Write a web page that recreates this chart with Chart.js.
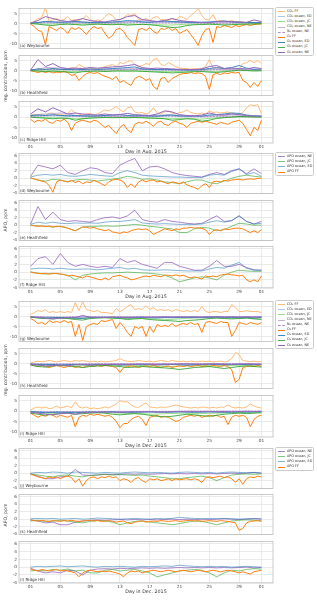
<!DOCTYPE html>
<html>
<head>
<meta charset="utf-8">
<script src="https://cdn.jsdelivr.net/npm/chart.js@4.4.1/dist/chart.umd.min.js"></script>
<style>
  body { margin: 0; width: 317px; height: 600px; position: relative; overflow: hidden; background: #fff; font-family: "DejaVu Sans", sans-serif; color: #333; }
  canvas { position: absolute; left: 0; }
  .ylab { position: absolute; font-size: 4.6px; white-space: nowrap; transform: translate(-50%, -50%) rotate(-90deg); }
  .legend { position: absolute; left: 275px; width: 39px; border: 0.6px solid #ccc; border-radius: 1.5px; background: #fff; font-size: 3.4px; padding: 0.8px 0; box-sizing: border-box; }
  .legend div { height: 5.1px; line-height: 5.1px; white-space: nowrap; position: relative; padding-left: 11px; }
  .legend span { position: absolute; left: 2px; top: 2.5px; width: 7px; height: 0; border-top-width: 1px; }
</style>
</head>
<body>
<script>
// x axis: day of month, ticks every 4 days plus the 1st of next month
var dayTicks = [1, 5, 9, 13, 17, 21, 25, 29, 32];
var dayTickLabels = ["01", "05", "09", "13", "17", "21", "25", "29", "01"];
var contribTicks = [-10, -5, 0, 5];
var apoTicks = [-4, -2, 0, 2, 4, 6];
var contribNames = ["CO₂ FF", "CO₂ ocean, ED", "CO₂ ocean, JC", "CO₂ ocean, NE", "N₂ ocean, NE", "O₂ FF", "O₂ ocean, ED", "O₂ ocean, JC", "O₂ ocean, NE"];
var apoNames = ["APO ocean, NE", "APO ocean, JC", "APO ocean, ED", "APO FF"];

// ---- Aug 2015, regional contributions (FF: half-daily, ocean: daily, small ones: ~2-daily)
var a_CO2FF = [0.2,1,2.5,2.8,8,1,1.8,2.5,1.5,2,3.5,1.5,2,1.5,2.5,4,2,1,1.8,1.5,3.5,5,4,2,1.8,3,4.5,4,5,2,1.8,2.5,1.5,3,3.5,1.8,2,1.5,2.5,1.8,3.5,3,2,4,5.5,7.5,4,2,1.8,4.5,1,1.5,0.8,1,1.5,0.8,1,0.7,0.4,0.7,0.4,0.2,0.1];
var a_O2FF = [-0.3,-1.5,-3.5,-4,-10.5,-1.5,-2.5,-3.5,-2,-3,-5,-2,-3,-2,-3.5,-5.5,-3,-1.5,-2.5,-2,-5,-7.5,-6,-3,-2.5,-4,-7,-9,-11,-3,-2.5,-3.5,-2,-4,-5,-2.5,-3,-2,-3.5,-2.5,-5,-4,-3,-5.5,-8,-11,-6,-3,-2.5,-9.5,-1.5,-2,-1,-1.5,-2,-1,-1.5,-1,-0.5,-1,-0.5,-0.3,-0.2];
var a_O2ED = [0.2,0.5,1,0.8,0.6,0.8,1,0.7,0.5,0.6,0.5,0.8,1,1.5,1.2,0.8,0.6,1,1.2,1,0.8,0.6,0.5,0.6,0.8,1,1.2,0.8,0.6,0.5,0.5,0.4];
var a_O2JC = [0,-0.3,-0.8,-1,-0.5,-0.3,-0.5,-0.8,-0.5,-0.3,-0.5,-0.6,-0.4,-0.8,-0.6,-0.4,-0.6,-1,-1.5,-2,-1.8,-1,-0.6,-0.5,-0.3,-0.5,-0.8,-0.6,-0.4,-0.3,-0.2,-0.1];
var a_O2NE = [0.2,1.5,3.5,2.5,1.5,1,1.5,2.5,1.5,1,0.8,1.5,2,3.5,4,2,1.5,1,1.5,2.5,1.5,1,0.8,0.6,0.5,1,1.2,1,0.8,0.6,1.8,1];
var a_CO2ED = [0.1,0.4,0.3,0.5,0.3,0.4,0.6,0.8,0.5,0.6,0.4,0.3,0.5,0.6,0.4,0.3];
var a_CO2JC = [0,-0.3,-0.2,-0.3,-0.2,-0.3,-0.2,-0.4,-0.6,-0.8,-0.4,-0.2,-0.3,-0.3,-0.2,-0.1];
var a_CO2NE = [0.1,1,0.8,1,0.6,0.5,0.8,1.5,1,0.8,1.2,0.5,0.4,0.5,0.5,0.6];
var a_N2NE = [0.1,0.4,0.3,0.3,0.2,0.2,0.3,0.5,0.3,0.3,0.4,0.2,0.1,0.2,0.2,0.2];

var b_CO2FF = [0.1,0.3,0.7,0.4,0.7,0.4,0.8,0.6,0.7,0.4,0.7,1.5,1.2,3,2,1,0.7,1,0.7,1.2,2,2.5,3,2,4,3.5,4.5,5,3,2,2.5,3.5,3,5.5,6,3,2.5,4,3,2,1.2,1,1,0.7,1,0.8,1,2,5.5,1.2,1,1.2,0.8,1,0.7,0.8,0.7,3.5,4,5,4,5,3.5];
var b_O2FF = [-0.2,-0.5,-1,-0.5,-1,-0.5,-1.2,-0.8,-1,-0.5,-1,-2.5,-2,-5,-3,-1.5,-1,-1.5,-1,-2,-3,-3.5,-4.5,-3,-6,-5,-6.5,-7.5,-4,-3,-3.5,-5,-4,-8,-9.5,-4,-3.5,-6,-4,-3,-2,-1.5,-1.5,-1,-1.5,-1.2,-1.5,-3,-9.5,-2,-1.5,-2,-1.2,-1.5,-1,-1.2,-1,-5,-6,-8.5,-6,-8,-5];
var b_O2ED = [0.2,0.8,0.6,1,0.6,0.5,0.7,0.5,0.8,0.6,0.8,1,1.2,1.5,1.8,0.8,0.6,0.5,0.6,0.5,0.4,0.3,0.3,0.5,1,1.5,1,1.5,2.5,1.2,0.6,0.8];
var b_O2JC = [0,-0.3,-0.5,-0.3,-0.5,-0.8,-1.2,-0.6,-0.4,-0.3,-0.5,-0.3,-0.2,-0.3,-0.2,-0.4,-0.6,-0.8,-1,-1.2,-1,-0.8,-0.6,-0.5,-0.8,-1,-0.6,-0.3,0.2,0,-0.2,-0.1];
var b_O2NE = [0.2,5.5,2,3.5,1.5,1,1.2,1,1.5,1.2,1.5,1.8,2,2.5,3,1.5,1,1.2,1,0.8,0.6,0.5,0.5,0.8,2,2.5,1,1.2,1,0.8,1.5,1];
var b_CO2ED = [0.1,0.3,0.4,0.3,0.3,0.4,0.5,0.6,0.3,0.2,0.2,0.3,0.5,0.8,0.4,0.3];
var b_CO2JC = [0,-0.2,-0.3,-0.5,-0.2,-0.2,-0.2,-0.3,-0.4,-0.6,-0.4,-0.3,-0.5,0,-0.1,-0.1];
var b_CO2NE = [0.1,1.5,1.2,0.5,0.5,0.6,0.8,1,0.6,0.4,0.3,0.3,0.8,0.5,0.4,0.5];
var b_N2NE = [0.1,0.6,0.5,0.2,0.2,0.3,0.4,0.5,0.3,0.2,0.1,0.1,0.4,0.2,0.2,0.2];

var c_CO2FF = [0.8,1.5,1,1.5,0.8,1.8,2,1,1.5,0.8,1.8,3.5,2,1.5,1,1.5,1.8,1,1.5,2.5,3.5,3,4,5,3.5,2.5,4.5,5,2.5,2,2.2,1.5,2.2,4.5,2,1.5,2.5,3,2,1.5,2.2,2.5,3.5,2.2,1.8,1.5,2,1.5,3,2.2,2.5,2,2.2,2.5,1.8,1.5,1.2,2.2,4.5,6,5.5,6,1.5];
var c_O2FF = [-1,-2.5,-1.5,-2,-1,-2.5,-3,-1.5,-2,-1,-2.5,-6.5,-3,-2,-1.5,-2,-2.5,-1.5,-2,-3.5,-5,-4,-6,-8,-5,-3.5,-6,-7.5,-3.5,-2.5,-3,-2,-3,-4.5,-2.5,-2,-3.5,-4,-2.5,-2,-3,-3.5,-5,-3,-2.5,-2,-2.5,-2,-2.5,-3,-3.5,-2.5,-3,-3.5,-2.5,-2,-1.5,-3,-6,-9,-5,-6.5,-1.5];
var c_O2ED = [0.8,1,0.8,1.2,0.8,0.6,0.8,0.6,0.5,0.6,0.8,1,1.2,0.8,0.6,0.8,0.6,0.5,0.8,1,0.6,0.5,0.6,0.5,1,1.2,1.5,2,1.8,1,0.6,0.5];
var c_O2JC = [0,-0.3,-0.5,-0.8,-0.5,-0.6,-1.5,-0.8,-0.5,-0.3,-0.2,-0.3,-0.2,-0.3,-0.2,-0.3,-0.5,-0.6,-0.8,-1.5,-1.2,-0.8,-1,-2,-1.5,-0.6,-0.3,0,0.3,0.2,0.1,0];
var c_O2NE = [1.5,4,2.5,4.5,3,1.5,2,1.5,1.2,1,1.5,1,1.2,1.8,1.2,1,0.8,1.5,3,2.5,1.2,0.8,0.6,1,2,1.2,1,1.5,1.2,0.8,0.6,0.5];
var c_CO2ED = [0.5,0.6,0.5,0.4,0.4,0.5,0.5,0.4,0.3,0.5,0.4,0.3,0.6,1.2,0.6,0.3];
var c_CO2JC = [0,-0.3,-0.4,-0.8,-0.3,-0.2,-0.2,-0.2,-0.4,-0.8,-0.6,-1,-0.4,0,0,0];
var c_CO2NE = [0.8,1.5,2,0.8,0.6,0.5,0.6,0.5,0.8,1.2,0.4,0.3,0.6,0.5,0.4,0.3];
var c_N2NE = [0.3,0.6,0.8,0.3,0.2,0.2,0.2,0.2,0.3,0.5,0.2,0.1,0.2,0.2,0.2,0.1];

// ---- Aug 2015, APO components
var d_NE = [0.5,3.5,3,2.5,3.5,1.5,1,2,2.8,2.5,1.5,1.2,3.5,4.5,5.3,2,3,3.2,2.5,1.5,1,0.7,0.5,0.3,1,1.5,1,2,2.5,1.2,2.5,1.2];
var d_JC = [0.1,-0.5,-0.8,-0.3,-0.5,-1,-0.5,-0.3,-0.5,-0.8,-0.5,-0.3,0,0.5,0.2,-0.3,-0.2,-0.5,-1,-1.2,-1.5,-1,-0.5,-0.5,-1.2,-1.5,-0.8,0,0.5,0.8,0.5,0.3];
var d_ED = [0.3,0.8,1,0.8,1,0.6,0.5,0.7,1,0.8,0.6,0.5,1.5,2,1.5,0.8,0.6,0.5,0.4,0.3,0.3,0.2,0.2,0.2,0.8,1,0.8,1.8,2.5,1,1.5,0.5];
var d_FF = [0,-0.2,-0.5,-0.8,-1,-2,-3.8,-1,-0.5,-0.8,-1,-0.6,-1.2,-0.8,-1.5,-1,-1.2,-0.6,-1,-1.5,-2,-1,-0.5,-0.3,-0.5,-1,-2.5,-1.5,-2.5,-1,-0.5,-1,-0.6,-0.5,-1,-0.8,-1.2,-1.5,-1,-1.2,-1.5,-1,-1.8,-2.2,-2.5,-3,-2,-1.5,-2.5,-1,-0.8,-1,-0.6,-0.8,-0.5,-0.4,-0.3,-0.5,-0.3,-0.2,-0.3,-0.1,0];

var e_NE = [0.3,5,1.5,3.5,1.5,1,1.2,1,0.8,1.5,2,2.2,1.8,2.5,4,1.5,1,0.8,1.5,1,0.8,0.5,0.3,0.5,1.5,2.5,1,1.2,2.5,1,0.3,1];
var e_JC = [0,-0.2,-0.3,-0.5,-0.3,-0.8,-1.5,-0.5,-0.3,-0.3,-0.2,-0.3,-0.2,0,0.2,0,-0.3,-0.5,-0.8,-1,-2,-2,-1,-0.6,-0.8,-1.5,-1.2,-0.3,0.5,0.3,0,0];
var e_ED = [0.2,0.8,0.5,0.8,0.5,0.4,0.6,0.5,0.6,0.5,0.8,1,1,1.2,1.5,0.6,0.4,0.3,0.4,0.3,0.2,0.2,0.2,0.3,0.8,1.2,0.8,1.2,2.5,1,0.3,0.5];
var e_FF = [0,-0.2,-0.3,-0.2,-0.4,-0.2,-0.5,-0.3,-0.4,-0.5,-0.8,-1.2,-1.5,-1,-0.5,-0.6,-0.8,-0.6,-1,-1.2,-1.5,-1.2,-1.8,-2,-2.2,-1.8,-2,-1.5,-1.2,-1,-1.2,-1,-1.5,-2.5,-2,-1.5,-1,-1.2,-1.5,-1,-1.2,-0.8,-0.8,-0.6,-0.8,-0.7,-0.9,-1.2,-2.5,-1.5,-1.2,-1.5,-1,-1.2,-1,-0.8,-0.8,-1,-1.5,-2,-1.5,-2,-1.2];

var f_NE = [1.5,3.5,4,2,4.8,2.5,1.5,2,1.5,1.2,1.5,1.2,3.5,2.5,3,2,1.5,1,2.5,2.5,1.5,1,0.5,0.5,1.5,3,1.5,1.5,2,1.2,0.6,0.5];
var f_JC = [0.1,-0.3,-0.5,-0.3,-0.5,-0.8,-2,-0.8,-0.5,-0.3,-0.2,-0.2,-0.1,0,-0.1,-0.2,-0.3,-0.5,-0.8,-1.5,-2.5,-2,-1.5,-1.2,-1.5,-2,-0.8,0,0.5,0.3,0.2,0.2];
var f_ED = [0.8,1,1,0.8,1,0.8,0.7,0.8,0.8,0.6,0.8,1,1.2,0.8,1,0.6,0.5,0.5,0.6,0.5,0.4,0.3,0.3,0.3,0.8,1.2,1,1.8,2.5,1,0.5,0.5];
var f_FF = [0,-0.2,-0.3,-0.4,-0.3,-0.5,-0.4,-0.3,-0.5,-0.6,-1,-0.8,-1,-1.2,-1.5,-1,-1.2,-1.5,-1.8,-2,-1.5,-2,-1.2,-1,-0.8,-1.2,-1.5,-2,-1.8,-1.5,-1.2,-1,-1.2,-0.8,-1,-1.2,-0.8,-0.8,-1,-0.7,-1,-0.8,-1.2,-1.5,-1.2,-1.5,-1.8,-1,-1.2,-1,-1.2,-0.8,-0.6,-0.5,-0.7,-0.8,-1,-0.8,-2,-2.5,-2,-2.5,-1];

// ---- Dec 2015, regional contributions
var g_CO2FF = [1,2,3,2.5,3.5,2,2.5,2,2.5,2,2.5,2,7,3,7.5,3.5,3,2.5,3,2,2,1.8,1.5,4,2.5,3.5,5,6,3.5,4,3.5,5.5,3.5,4.5,3,3.5,3,3.5,2.5,3.5,3,2.5,3,2.5,3,2.5,5,2.5,2,2.5,2.5,2,2.5,2.5,6,4.5,2.5,2.5,3,2.5,2.5,2.5,2];
var g_O2FF = [-1,-2,-3.5,-3,-4,-2,-3,-2.5,-3,-2,-3,-2.5,-10,-4,-12,-5,-4,-3.5,-4,-2,-2.5,-2,-1.5,-6,-3,-5,-8,-10,-5,-6,-5,-10,-5,-8,-4,-5,-4.5,-5,-3.5,-5,-4,-3.5,-4,-3,-4,-3.5,-8,-3,-2.5,-3,-3.5,-2.5,-3,-3,-10,-7,-3,-3.5,-4,-3,-3.5,-4,-3];
var g_O2ED = [-0.2,-0.5,-0.8,-0.6,-0.5,-0.7,-0.8,-1,-0.6,-0.5,-0.4,-0.5,-0.6,-0.8,-0.6,-0.5,-0.6,-0.7,-0.5,-0.6,-0.5,-0.4,-0.5,-0.6,-0.4,-0.3,-0.4,-0.5,-0.6,-0.4,-0.8,-0.5];
var g_O2JC = [-0.3,-0.8,-1,-1.2,-0.8,-1,-1.5,-1.8,-1,-0.8,-0.6,-0.8,-1,-1.5,-1.2,-1,-1.5,-1.8,-2,-2.2,-2.5,-2,-1.8,-1.5,-1,-0.8,-1,-1.2,-1,-0.8,-1.2,-1.5];
var g_O2NE = [-0.2,-0.5,-0.8,-1.2,-0.8,-0.6,-0.5,0.5,-0.3,-0.4,-0.5,-0.3,-0.4,-0.5,-0.4,-0.3,-0.4,-0.3,-0.2,-0.3,-0.2,-0.3,-0.2,-0.3,-0.2,-0.2,-0.3,-0.2,-0.3,-0.2,-0.3,-0.2];
var g_CO2ED = [-0.1,-0.3,-0.4,-0.5,-0.3,-0.3,-0.4,-0.3,-0.3,-0.2,-0.3,-0.2,-0.2,-0.3,-0.3,-0.2];
var g_CO2JC = [-0.2,-0.5,-0.8,-1,-0.5,-0.6,-0.8,-1,-1.2,-1.5,-1,-0.6,-0.6,-0.8,-0.6,-0.8];
var g_CO2NE = [-0.1,-0.4,-0.6,-0.2,-0.3,-0.3,-0.2,-0.2,-0.2,-0.2,-0.2,-0.2,-0.2,-0.2,-0.2,-0.2];
var g_N2NE = [0,-0.2,-0.3,-0.1,-0.1,-0.2,-0.1,-0.1,-0.1,-0.1,-0.1,-0.1,-0.1,-0.1,-0.1,-0.1];

var h_CO2FF = [0.3,0.8,1.2,0.8,1.2,1.5,1.2,0.8,1.2,1.5,1.2,1,1.5,1.2,1.5,1.2,0.8,1.2,0.8,1.2,0.8,1,1.2,1.5,2.5,1.5,1.2,1,1.2,1.5,1.2,1,1.2,0.8,1.2,1.5,1.2,1,1.5,1.2,1,1.2,0.8,1.2,1,0.8,1.2,1,1.2,0.8,1,1.2,0.8,1.2,2.5,5.5,4.5,1.5,1.2,1,1.2,0.8,1];
var h_O2FF = [-0.5,-1,-1.5,-1,-1.5,-2,-1.5,-1,-1.5,-2,-1.5,-1.2,-2,-1.5,-2,-1.5,-1,-1.5,-1,-1.5,-1,-1.2,-1.5,-2,-4.5,-2,-1.5,-1.2,-1.5,-2,-1.5,-1.2,-1.5,-1,-1.5,-2,-1.5,-1.2,-2,-1.5,-1.2,-1.5,-1,-1.5,-1.2,-1,-1.5,-1.2,-1.5,-1,-1.2,-1.5,-1,-1.5,-3,-9.5,-8,-2,-1.5,-1.2,-1.5,-1,-1.5];
var h_O2ED = [-0.3,-0.5,-0.6,-0.5,-0.8,-0.6,-0.5,-0.6,-0.7,-0.5,-0.6,-0.5,-0.8,-0.6,-0.5,-0.6,-0.5,-0.7,-0.6,-0.5,-0.6,-0.8,-0.6,-0.5,-0.4,-0.5,-0.6,-0.5,-0.4,-0.5,-0.6,-0.5];
var h_O2JC = [-0.8,-1.5,-1.8,-1.2,-1,-1.2,-1.5,-2,-1.5,-1.2,-1,-1.2,-1.5,-2,-1.8,-1.5,-1.8,-2,-2.2,-2.5,-3,-2.5,-2,-1.8,-1.5,-2,-2.5,-2,-1.5,-1.2,-1.5,-1.8];
var h_O2NE = [-0.3,-0.8,-1.2,-1,-0.8,-1,-0.6,-0.5,-0.8,-0.6,-0.5,-0.4,-0.5,-0.6,-0.4,-0.3,-0.4,-0.5,-0.3,-0.4,-0.3,-0.2,-0.3,-0.4,-0.3,-0.2,-0.3,-0.4,-0.3,-0.2,-0.3,-0.4];
var h_CO2ED = [-0.2,-0.3,-0.3,-0.4,-0.3,-0.3,-0.4,-0.3,-0.3,-0.4,-0.3,-0.3,-0.2,-0.3,-0.3,-0.3];
var h_CO2JC = [-0.5,-0.8,-0.6,-0.8,-1,-0.8,-0.8,-1,-1.2,-1.5,-1.2,-1,-1.2,-1,-0.8,-0.8];
var h_CO2NE = [-0.2,-0.5,-0.5,-0.4,-0.3,-0.3,-0.2,-0.2,-0.2,-0.2,-0.1,-0.2,-0.2,-0.2,-0.2,-0.2];
var h_N2NE = [-0.1,-0.2,-0.2,-0.2,-0.1,-0.1,-0.1,-0.1,-0.1,-0.1,0,-0.1,-0.1,-0.1,-0.1,-0.1];

var i_CO2FF = [0.5,1.5,2,1.5,2,1.2,1.5,2.5,1.5,2,2.5,1.5,4.5,2,1.5,2,1.2,1.5,1.2,1.5,2,1.5,2.5,3.5,5,4.5,4.5,3,2,1.8,3,4,2,1.8,1.5,2,1.8,2,2.5,3,2.5,2,1.8,1.5,1.8,1.5,2,1.8,1.5,1.8,1.5,2,1.8,3,2,1.5,1.8,1.5,2,3.5,2.5,1.8,1.5];
var i_O2FF = [-1,-2,-3,-2,-2.5,-1.5,-2,-3,-2,-2.5,-3,-2,-7.5,-3,-2,-2.5,-1.5,-2,-1.5,-2,-2.5,-2,-3,-5,-8,-6,-6,-4,-3,-2.5,-4,-7,-3,-2.5,-2,-3,-2.5,-3,-4,-5,-4.5,-3,-2.5,-2,-2.5,-2,-3,-2.5,-2,-2.5,-2,-3,-2.5,-6.5,-3,-2,-2.5,-2,-3,-7.5,-4,-2.5,-2];
var i_O2ED = [-0.3,-0.5,-0.8,-0.6,-0.5,-0.6,-0.8,-0.6,-0.5,-0.6,-0.5,-0.4,-0.6,-0.8,-0.6,-0.5,-0.4,-0.5,-0.6,-0.5,-0.4,-0.5,-0.6,-0.5,-0.4,-0.5,-0.6,-0.5,-0.4,-0.5,-0.4,-0.3];
var i_O2JC = [-1,-1.5,-2,-1.5,-1.2,-1,-1.5,-1.2,-1,-0.8,-1,-1.5,-1.8,-1.5,-1.2,-1.5,-2,-2.5,-2.8,-2.5,-2,-1.5,-1.8,-2.2,-2.5,-2,-1.5,-1.2,-1,-1.2,-1,-0.8];
var i_O2NE = [-0.5,-1,-1.5,-1.8,-1.2,-1,-1.5,-0.8,-0.6,-0.5,-0.4,-0.5,-0.6,-0.4,-0.3,-0.4,-0.3,-0.5,-0.4,-0.3,-0.2,-0.3,-0.2,-0.3,-0.2,-0.3,-0.2,-0.3,-0.2,-0.1,-0.2,-0.1];
var i_CO2ED = [-0.2,-0.3,-0.4,-0.3,-0.3,-0.4,-0.3,-0.2,-0.3,-0.3,-0.2,-0.3,-0.3,-0.2,-0.2,-0.2];
var i_CO2JC = [-0.6,-1,-0.8,-0.6,-0.5,-0.8,-1,-1.2,-1.5,-1.2,-1,-1.2,-1,-0.8,-0.6,-0.5];
var i_CO2NE = [-0.3,-0.6,-0.8,-0.4,-0.3,-0.2,-0.2,-0.2,-0.2,-0.2,-0.1,-0.1,-0.1,-0.1,-0.1,-0.1];
var i_N2NE = [-0.1,-0.3,-0.3,-0.2,-0.1,-0.1,-0.1,-0.1,-0.1,-0.1,0,0,0,0,0,0];

// ---- Dec 2015, APO components
var j_NE = [-0.2,-0.8,-1.5,-1.5,-1,-0.8,1,-0.5,-0.6,-0.5,-0.3,-0.4,-0.3,-0.2,-0.3,-0.2,-0.3,-0.2,-0.1,-0.2,-0.1,-0.2,-0.1,-0.2,-0.1,-0.2,-0.1,0,-0.1,0,0.2,0];
var j_JC = [-0.2,-0.5,-0.8,-1,-0.6,-0.5,-0.8,-1,-0.6,-0.5,-0.3,-0.5,-0.4,-0.5,-0.6,-0.5,-0.8,-1,-1.2,-1.5,-1.5,-1.2,-1,-0.8,-1.2,-2,-1.2,-0.5,-0.3,-0.2,-0.3,-0.2];
var j_ED = [0,0.2,0.1,0.3,0.2,0,0.3,0.2,0.1,0,0.2,0.1,0,0.2,0.3,0.2,0.1,0.2,0.1,0,0.2,0.3,0.2,0.1,0.2,0,0.2,0.3,0.2,0.1,0.2,0];
var j_FF = [-0.3,-0.6,-1,-1.2,-1.5,-1,-1.3,-1,-1.5,-1,-0.8,-1.2,-2.5,-1.5,-3.5,-2,-1.2,-1,-1.5,-1,-1.2,-0.8,-1.2,-1,-2,-1.5,-1.8,-2.5,-1.5,-1.2,-2,-2.5,-1.5,-1.8,-1.5,-2,-1.8,-1.5,-2,-1.5,-1.8,-1.6,-1.5,-1.8,-1.5,-1.8,-2.5,-1.2,-1,-1.2,-1,-0.8,-1.2,-1,-1.5,-2.5,-1.5,-3,-1.5,-1,-1.2,-0.8,-1];

var k_NE = [-0.2,-0.5,-1,-0.8,-1.5,-1.5,-0.8,-0.5,-0.3,-0.2,-0.3,-0.2,-0.1,-0.2,-0.1,-0.2,-0.1,-0.2,-0.1,0,-0.1,0,-0.1,0,-0.1,0,0.1,0,-0.1,0,0.1,0];
var k_JC = [-0.5,-0.3,-0.6,-0.5,-0.3,-0.5,-0.8,-1,-0.6,-0.3,-0.5,-0.8,-1.5,-1,-0.6,-0.5,-0.8,-1,-1.2,-1.5,-1.2,-0.8,-0.5,-0.6,-1,-1.5,-1,-0.5,-0.3,-0.2,-0.3,-0.4];
var k_ED = [0.1,0.2,0.1,0.2,0,0.1,0.2,0,0.1,0.3,0.2,0.1,0,0.1,0.2,0.1,0,0.2,0.1,0.2,0.5,0.3,0.2,0.1,0.2,0.1,0.2,0.1,0,0.1,0.2,0.1];
var k_FF = [-0.2,-0.4,-0.5,-0.3,-0.5,-0.6,-0.4,-0.5,-0.6,-0.4,-0.5,-0.3,-0.5,-0.6,-0.5,-0.4,-0.3,-0.5,-0.4,-0.6,-0.5,-0.4,-0.6,-0.8,-0.6,-0.5,-1,-1.2,-0.8,-0.6,-0.5,-0.8,-0.6,-0.5,-0.6,-0.4,-0.5,-0.6,-0.5,-0.4,-0.6,-0.5,-0.4,-0.3,-0.5,-0.4,-0.6,-0.5,-0.4,-0.5,-0.6,-0.4,-0.5,-0.6,-0.8,-1,-3,-2.5,-1,-0.6,-0.5,-0.4,-0.6];

var l_NE = [-0.3,-1,-1.5,-1.2,-1.5,-0.8,-1,-2,-0.8,-0.5,-0.4,-0.5,-0.3,-0.4,-0.3,-0.2,-0.3,-0.2,-0.3,-0.2,-0.1,-0.2,-0.1,-0.2,-0.1,-0.2,-0.1,-0.2,-0.1,0,-0.2,-0.1];
var l_JC = [-1,-0.8,-1,-0.6,-0.8,-0.5,-1,-0.8,-1.5,-1.5,-0.8,-0.6,-1,-0.8,-0.6,-1,-1.5,-2.5,-2,-1.5,-1,-0.8,-0.6,-0.8,-1.5,-2.5,-1.5,-0.8,-1,-0.6,-0.4,-0.5];
var l_ED = [0,0.2,0.1,0.2,0.3,0.1,0.2,0.3,0.1,0,0.2,0.1,0.2,0.1,0,0.2,0.1,0.2,0.3,0.2,0.5,0.3,0.2,0.1,0.2,0.1,0.2,0,0.1,0.2,0.1,0];
var l_FF = [-0.5,-0.8,-1,-0.6,-0.8,-1,-0.8,-0.6,-1,-0.8,-1,-1.2,-1.5,-2.5,-1.5,-1,-0.8,-1,-1.2,-1,-1.2,-1,-1.2,-1.5,-1.8,-2.5,-1.5,-1,-1.2,-1,-1.5,-1.2,-1,-0.8,-1,-1.2,-1,-0.8,-1,-1.2,-1,-0.8,-1,-1.2,-1,-0.8,-1,-1.2,-1,-0.8,-1,-1.2,-1,-0.8,-1,-1.2,-1.5,-1.2,-1.5,-1.8,-1.2,-1,-0.8];

// styles
var contribColors = ["#ffbb78", "#aec7e8", "#98df8a", "#c5b0d5", "#ad8bcb", "#ff7f0e", "rgba(31,119,180,0.85)", "rgba(44,160,44,0.85)", "#9467bd"];
var contribDash = [[], [], [], [], [2, 1.2], [], [], [], []];
var apoColors = ["rgba(148,103,189,0.8)", "rgba(44,160,44,0.6)", "rgba(31,119,180,0.55)", "#ff7f0e"];

var panels = [
  { top: 7, label: "(a) Weybourne", kind: "contrib", data: [a_CO2FF, a_CO2ED, a_CO2JC, a_CO2NE, a_N2NE, a_O2FF, a_O2ED, a_O2JC, a_O2NE] },
  { top: 54, label: "(b) Heathfield", kind: "contrib", data: [b_CO2FF, b_CO2ED, b_CO2JC, b_CO2NE, b_N2NE, b_O2FF, b_O2ED, b_O2JC, b_O2NE] },
  { top: 100, label: "(c) Ridge Hill", kind: "contrib", xTitle: "Day in Aug. 2015", data: [c_CO2FF, c_CO2ED, c_CO2JC, c_CO2NE, c_N2NE, c_O2FF, c_O2ED, c_O2JC, c_O2NE] },
  { top: 152, label: "(d) Weybourne", kind: "apo", data: [d_NE, d_JC, d_ED, d_FF] },
  { top: 199, label: "(e) Heathfield", kind: "apo", data: [e_NE, e_JC, e_ED, e_FF] },
  { top: 245, label: "(f) Ridge Hill", kind: "apo", xTitle: "Day in Aug. 2015", data: [f_NE, f_JC, f_ED, f_FF] },
  { top: 300, label: "(g) Weybourne", kind: "contrib", data: [g_CO2FF, g_CO2ED, g_CO2JC, g_CO2NE, g_N2NE, g_O2FF, g_O2ED, g_O2JC, g_O2NE] },
  { top: 347, label: "(h) Heathfield", kind: "contrib", data: [h_CO2FF, h_CO2ED, h_CO2JC, h_CO2NE, h_N2NE, h_O2FF, h_O2ED, h_O2JC, h_O2NE] },
  { top: 394, label: "(i) Ridge Hill", kind: "contrib", xTitle: "Day in Dec. 2015", data: [i_CO2FF, i_CO2ED, i_CO2JC, i_CO2NE, i_N2NE, i_O2FF, i_O2ED, i_O2JC, i_O2NE] },
  { top: 447, label: "(j) Weybourne", kind: "apo", data: [j_NE, j_JC, j_ED, j_FF] },
  { top: 493, label: "(k) Heathfield", kind: "apo", data: [k_NE, k_JC, k_ED, k_FF] },
  { top: 540, label: "(l) Ridge Hill", kind: "apo", xTitle: "Day in Dec. 2015", data: [l_NE, l_JC, l_ED, l_FF] }
];

var groups = [
  { kind: "contrib", legendTop: 7, ylabel: "reg. contribution, ppm", ymid: 76 },
  { kind: "apo", legendTop: 152, ylabel: "APO, ppm", ymid: 220 },
  { kind: "contrib", legendTop: 300, ylabel: "reg. contribution, ppm", ymid: 370 },
  { kind: "apo", legendTop: 447, ylabel: "APO, ppm", ymid: 515 }
];

var panelH = 43;
var padTop = 3;

Chart.defaults.font.family = "'DejaVu Sans', sans-serif";
Chart.defaults.color = "#444";

// values spread evenly over day 1 .. day 32
function toPoints(vals) {
  var step = 31 / (vals.length - 1);
  return vals.map(function (v, i) {
    return { x: 1 + i * step, y: v };
  });
}

var panelDecor = {
  id: "panelDecor",
  afterDraw: function (chart) {
    var a = chart.chartArea;
    var ctx = chart.ctx;
    ctx.save();
    ctx.strokeStyle = "#bdbdbd";
    ctx.lineWidth = 0.8;
    ctx.strokeRect(a.left, a.top, a.right - a.left, a.bottom - a.top);
    ctx.fillStyle = "#333";
    ctx.font = "4px 'DejaVu Sans'";
    ctx.textBaseline = "bottom";
    ctx.fillText(chart.options.plugins.panelDecor.label, a.left + 1, a.bottom - 0.8);
    ctx.restore();
  }
};

function makePanel(p) {
  var isBottom = !!p.xTitle;
  var contrib = p.kind === "contrib";
  var canvas = document.createElement("canvas");
  var h = padTop + panelH + (isBottom ? 12 : 3);
  canvas.width = 317;
  canvas.height = h;
  canvas.style.top = (p.top - padTop) + "px";
  document.body.appendChild(canvas);

  var names = contrib ? contribNames : apoNames;
  var colors = contrib ? contribColors : apoColors;
  var datasets = p.data.map(function (vals, i) {
    return {
      label: names[i],
      data: toPoints(vals),
      borderColor: colors[i],
      borderWidth: 1,
      borderDash: contrib ? contribDash[i] : [],
      pointRadius: 0,
      tension: 0,
      order: p.data.length - i
    };
  });

  var yTicks = contrib ? contribTicks : apoTicks;

  new Chart(canvas, {
    type: "line",
    data: { datasets: datasets },
    plugins: [panelDecor],
    options: {
      responsive: false,
      animation: false,
      devicePixelRatio: 1,
      layout: { padding: { top: padTop, right: 44, bottom: isBottom ? 0 : 3, left: 0 } },
      plugins: {
        legend: { display: false },
        tooltip: { enabled: false },
        panelDecor: { label: p.label }
      },
      scales: {
        x: {
          type: "linear",
          min: -0.55,
          max: 33.55,
          afterBuildTicks: function (axis) {
            axis.ticks = dayTicks.map(function (v) { return { value: v }; });
          },
          afterFit: function (axis) { axis.height = isBottom ? 12 : 0; },
          grid: { color: "#e4e4e4", lineWidth: 0.8, drawTicks: false },
          border: { display: false },
          ticks: {
            display: isBottom,
            autoSkip: false,
            maxRotation: 0,
            padding: 1.5,
            font: { size: 4.3 },
            callback: function (v) { return dayTickLabels[dayTicks.indexOf(v)]; }
          },
          title: {
            display: isBottom,
            text: p.xTitle || "",
            font: { size: 4.8 },
            color: "#333",
            padding: 0
          }
        },
        y: {
          min: contrib ? -12.5 : -4.1,
          max: contrib ? 7.5 : 6.6,
          afterBuildTicks: function (axis) {
            axis.ticks = yTicks.map(function (v) { return { value: v }; });
          },
          afterFit: function (axis) { axis.width = 19; },
          grid: { color: "#e4e4e4", lineWidth: 0.8, drawTicks: false },
          border: { display: false },
          ticks: { padding: 2, font: { size: 4.3 } }
        }
      }
    }
  });
}

function makeGroupText(g) {
  var names = g.kind === "contrib" ? contribNames : apoNames;
  var colors = g.kind === "contrib" ? contribColors : apoColors;
  var leg = document.createElement("div");
  leg.className = "legend";
  leg.style.top = g.legendTop + "px";
  names.forEach(function (n, i) {
    var row = document.createElement("div");
    var dash = g.kind === "contrib" && contribDash[i].length ? "dashed" : "solid";
    row.innerHTML = '<span style="border-top-style:' + dash + ';border-top-color:' + colors[i] + '"></span>' + n;
    leg.appendChild(row);
  });
  document.body.appendChild(leg);

  var yl = document.createElement("div");
  yl.className = "ylab";
  yl.style.left = "5px";
  yl.style.top = g.ymid + "px";
  yl.textContent = g.ylabel;
  document.body.appendChild(yl);
}

panels.forEach(makePanel);
groups.forEach(makeGroupText);
</script>
</body>
</html>
